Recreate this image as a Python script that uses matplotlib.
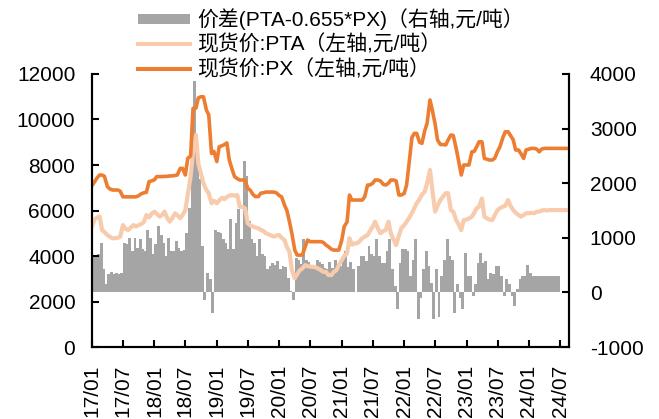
import matplotlib
matplotlib.use("Agg")
import matplotlib.pyplot as plt
import matplotlib.dates as mdates
from matplotlib.lines import Line2D
import pandas as pd

plt.rcParams['font.family'] = ['Liberation Sans', 'Noto Sans CJK SC', 'DejaVu Sans']
plt.rcParams['axes.unicode_minus'] = False

# 半月数据, 2017-01 起
px = [7100, 7250, 7450, 7560, 7560, 7500, 7050, 6950, 6900, 6900,
      6900, 6850, 6600, 6600, 6600, 6600, 6600, 6600, 6650, 6730,
      6780, 6800, 7270, 7300, 7350, 7490, 7490, 7490, 7500, 7500,
      7520, 7520, 7540, 7560, 7850, 7850, 7560, 8290, 8400, 10490,
      10500, 10950, 11000, 11000, 10420, 10200, 8510, 8600, 8150, 8800,
      8850, 8900, 8970, 8220, 7800, 7490, 7400, 7340, 7340, 7340,
      6975, 6900, 6700, 6610, 6610, 6760, 6780, 6810, 6810, 6810,
      6810, 6780, 6660, 6600, 6240, 6000, 5510, 5000, 4260, 4040,
      4040, 4040, 4400, 4700, 4630, 4630, 4630, 4630, 4630, 4600,
      4480, 4410, 4300, 4260, 4260, 4260, 4700, 5290, 5500, 6680,
      6460, 6460, 6460, 6460, 6460, 6600, 7120, 7120, 7200, 7340,
      7340, 7300, 7150, 7120, 7200, 7340, 7340, 7300, 6680, 6680,
      6750, 7120, 8220, 9200, 9390, 9390, 9000, 8950, 9500, 9830,
      10860, 10400, 9800, 9100, 8900, 8900, 8880, 9100, 9320, 9300,
      8730, 8200, 7560, 8000, 8000, 8000, 8580, 8600, 8800, 9020,
      9020, 8290, 8250, 8220, 8220, 8300, 8600, 8800, 9200, 9460,
      9460, 9300, 9100, 8660, 8660, 8500, 8290, 8660, 8700, 8730,
      8730, 8700, 8580, 8700, 8730, 8730, 8730, 8730, 8730, 8730,
      8730, 8730, 8730, 8730]

pta = [5300, 5600, 5700, 5730, 5140, 5050, 4920, 4850, 4780, 4780,
       4800, 4850, 5360, 5200, 5140, 5250, 5360, 5300, 5360, 5400,
       5500, 5800, 5700, 5850, 5950, 5850, 5730, 5800, 5950, 5700,
       5510, 5650, 5880, 5800, 5660, 5800, 6020, 6680, 7500, 8580,
       9320, 8070, 7600, 7200, 6900, 6760, 6320, 6430, 6320, 6450,
       6560, 6500, 6600, 6650, 6680, 6650, 6680, 6170, 6150, 6100,
       5440, 5350, 5290, 5250, 5220, 5150, 5100, 5000, 4950, 4900,
       4850, 4900, 4920, 4800, 4700, 4400, 4190, 3380, 3020, 3200,
       3380, 3450, 3600, 3550, 3530, 3530, 3500, 3450, 3380, 3300,
       3300, 3160, 3160, 3300, 3380, 3600, 3820, 4000, 4120, 4780,
       4500, 4550, 4560, 4650, 4780, 4850, 4920, 5100, 5290, 5510,
       5200, 5000, 5100, 5140, 5510, 5000, 4700, 4480, 4900, 5220,
       5350, 5510, 5700, 5880, 6100, 6320, 6500, 6700, 6830, 7200,
       7780, 6900, 5950, 6200, 6460, 6600, 6760, 6760, 6020, 5950,
       5580, 5400, 5140, 5580, 5600, 5650, 5730, 5900, 6100, 6170,
       6530, 5730, 5650, 5600, 5580, 5800, 6020, 6100, 6170, 6200,
       6460, 6200, 6020, 5900, 5800, 5730, 5800, 5880, 5880, 5900,
       5880, 5950, 5950, 6000, 6020, 6000, 6020, 6020, 6020, 6020,
       6020, 6020, 6020, 6020]

spread = [660, 640, 700, 910, 420, 150, 330, 380, 340, 350,
          330, 360, 910, 880, 990, 760, 1000, 820, 980, 790,
          760, 1150, 1000, 700, 880, 1210, 1050, 900, 665, 1000,
          750, 760, 940, 820, 750, 780, 1090, 1550, 2375, 3870,
          2680, 2070, 850, -130, 360, 240, -370, 1150, 1100, 1080,
          970, 900, 800, 1340, 800, 1280, 1520, 970, 2400, 2130,
          1300, 970, 900, 660, 970, 700, 660, 420, 480, 540,
          500, 575, 420, 480, 460, 270, 25, -130, 635, 600,
          520, 970, 600, 550, 480, 450, 600, 560, 520, 440,
          420, 560, 450, 600, 500, 480, 620, 755, 460, 550,
          420, 0, 480, 660, 660, 570, 850, 700, 660, 970,
          660, 540, 540, 760, 970, 420, 120, -310, 540, 790,
          790, 760, 300, 600, 970, -495, -100, 420, 760, 480,
          180, -495, 420, -450, 300, 600, 970, 660, 600, -370,
          150, -100, -310, 730, 300, 300, -70, 150, 545, 730,
          545, 570, 240, 360, 330, 480, 480, 300, -70, 240,
          150, -70, -250, 60, 240, 300, 300, 510, 360, 300,
          300, 300, 300, 300, 300, 300, 300, 300, 300, 300]

dates = pd.date_range('2017-01-01', periods=len(px), freq='SMS')
bar_dates = dates[:len(spread)]

fig = plt.figure(figsize=(6.59, 4.19), dpi=100)
ax = fig.add_axes([0.1396, 0.1718, 0.7238, 0.6516])
ax2 = ax.twinx()

# 柱子放在右轴, 线画在上层
ax2.bar(bar_dates, spread, width=17, align='edge', color='#A5A5A5', linewidth=0)
ax.plot(dates, pta, color='#F8CBAD', lw=3.0)
ax.plot(dates, px, color='#ED7D31', lw=2.6)
ax.set_zorder(ax2.get_zorder() + 1)
ax.patch.set_visible(False)

ax.set_ylim(0, 12000)
ax.set_yticks(range(0, 12001, 2000))
ax2.set_ylim(-1000, 4000)
ax2.set_yticks(range(-1000, 4001, 1000))
ax.set_xlim(pd.Timestamp('2017-01-01'), pd.Timestamp('2024-08-22'))
ax.xaxis.set_major_locator(mdates.MonthLocator(bymonth=[1, 7]))
ax.xaxis.set_major_formatter(mdates.DateFormatter('%y/%m'))
plt.setp(ax.get_xticklabels(), rotation=90)

for a in (ax, ax2):
    a.spines['top'].set_visible(False)
    for s in ('left', 'right', 'bottom'):
        a.spines[s].set_linewidth(1.5)
    a.tick_params(direction='in', length=5, width=1.5, labelsize=15)
ax.tick_params(axis='y', pad=12)
ax2.tick_params(axis='y', pad=15)
ax.tick_params(axis='x', pad=13)

handles = [Line2D([], [], color='#A5A5A5', lw=7.2, solid_capstyle='butt'),
           Line2D([], [], color='#F8CBAD', lw=2.9),
           Line2D([], [], color='#ED7D31', lw=2.9)]
labels = ['价差(PTA-0.655*PX)（右轴,元/吨）',
          '现货价:PTA（左轴,元/吨）',
          '现货价:PX（左轴,元/吨）']
fig.legend(handles, labels, loc='upper left', bbox_to_anchor=(138 / 659, 1 - 8 / 419),
           frameon=False, fontsize=15, handlelength=2.5, handletextpad=0.33,
           labelspacing=0.22, borderpad=0, borderaxespad=0)

fig.savefig('out.png', dpi=100)
